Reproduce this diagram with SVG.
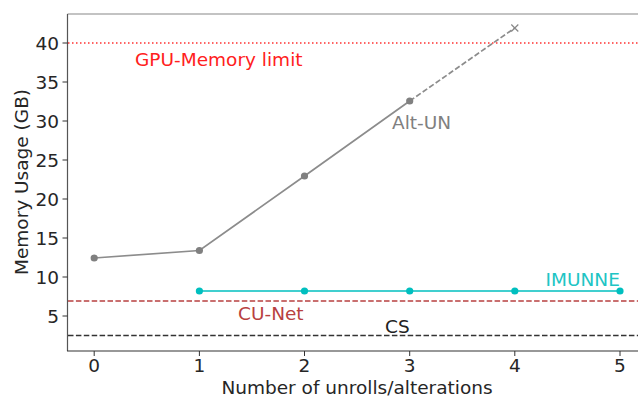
<svg xmlns="http://www.w3.org/2000/svg" width="638" height="398" viewBox="0 0 638 398">
<style>
text{font-family:"DejaVu Sans","Liberation Sans",sans-serif;font-size:18.5px;fill:#262626}
.tick{stroke:#333;stroke-width:1}
.yt{text-anchor:end}
.xt{text-anchor:middle}
</style>
<rect width="638" height="398" fill="#fff"/>
<g id="axes">
<line x1="67.5" y1="14" x2="638" y2="14" stroke="#888" stroke-width="1.2"/>
<line x1="67.5" y1="14" x2="67.5" y2="351" stroke="#555" stroke-width="1.2"/>
<line x1="67" y1="351" x2="638" y2="351" stroke="#333" stroke-width="1.2"/>
<g class="tick">
<line x1="62.5" y1="43" x2="67.5" y2="43"/>
<line x1="62.5" y1="82" x2="67.5" y2="82"/>
<line x1="62.5" y1="121" x2="67.5" y2="121"/>
<line x1="62.5" y1="160" x2="67.5" y2="160"/>
<line x1="62.5" y1="199" x2="67.5" y2="199"/>
<line x1="62.5" y1="238" x2="67.5" y2="238"/>
<line x1="62.5" y1="277" x2="67.5" y2="277"/>
<line x1="62.5" y1="316" x2="67.5" y2="316"/>
<line x1="94.2" y1="351" x2="94.2" y2="356"/>
<line x1="199.4" y1="351" x2="199.4" y2="356"/>
<line x1="304.5" y1="351" x2="304.5" y2="356"/>
<line x1="409.7" y1="351" x2="409.7" y2="356"/>
<line x1="514.8" y1="351" x2="514.8" y2="356"/>
<line x1="620" y1="351" x2="620" y2="356"/>
</g>
<text class="yt" x="59" y="49.5">40</text>
<text class="yt" x="59" y="88.5">35</text>
<text class="yt" x="59" y="127.5">30</text>
<text class="yt" x="59" y="166.5">25</text>
<text class="yt" x="59" y="205.5">20</text>
<text class="yt" x="59" y="244.5">15</text>
<text class="yt" x="59" y="283.5">10</text>
<text class="yt" x="59" y="322.5">5</text>
<text class="xt" x="94.2" y="372">0</text>
<text class="xt" x="199.4" y="372">1</text>
<text class="xt" x="304.5" y="372">2</text>
<text class="xt" x="409.7" y="372">3</text>
<text class="xt" x="514.8" y="372">4</text>
<text class="xt" x="620" y="372">5</text>
<text x="357" y="394" text-anchor="middle">Number of unrolls/alterations</text>
<text transform="translate(28,182) rotate(-90)" text-anchor="middle">Memory Usage (GB)</text>
</g>
<g id="connectors">
<line id="gpu-limit" x1="68" y1="43" x2="638" y2="43" stroke="#ff3030" stroke-width="1.5" stroke-dasharray="1.5,2.5"/>
<line id="cunet" x1="68" y1="301" x2="638" y2="301" stroke="#b84040" stroke-width="1.5" stroke-dasharray="5.5,2.4"/>
<line id="cs" x1="68" y1="335.5" x2="638" y2="335.5" stroke="#333" stroke-width="1.5" stroke-dasharray="5.5,2.4"/>
<polyline id="altun" points="94.2,258 199.4,250.5 304.5,176 409.7,101" fill="none" stroke="#8c8c8c" stroke-width="1.7"/>
<line x1="409.7" y1="101" x2="514.8" y2="28" stroke="#8c8c8c" stroke-width="1.7" stroke-dasharray="5.5,2.4"/>
<polyline id="imunne" points="199.4,291 620,291" fill="none" stroke="#00bfbf" stroke-width="1.7"/>
</g>
<g id="altun-markers" fill="#808080">
<circle cx="94.2" cy="258" r="3.6"/>
<circle cx="199.4" cy="250.5" r="3.6"/>
<circle cx="304.5" cy="176" r="3.6"/>
<circle cx="409.7" cy="101" r="3.6"/>
<path d="M511.3,24.5 L518.3,31.5 M511.3,31.5 L518.3,24.5" stroke="#888" stroke-width="1.2"/>
</g>
<g id="imunne-markers" fill="#00bfbf">
<circle cx="199.4" cy="291" r="3.6"/>
<circle cx="304.5" cy="291" r="3.6"/>
<circle cx="409.7" cy="291" r="3.6"/>
<circle cx="514.8" cy="291" r="3.6"/>
<circle cx="620" cy="291" r="3.6"/>
</g>
<g id="labels">
<text x="135" y="66" style="fill:#ff2020">GPU-Memory limit</text>
<text x="392" y="128.5" style="fill:#808080">Alt-UN</text>
<text x="545.5" y="286" style="fill:#20c4c4">IMUNNE</text>
<text x="238" y="319.5" style="fill:#b84040">CU-Net</text>
<text x="385" y="333" style="fill:#222">CS</text>
</g>
</svg>
